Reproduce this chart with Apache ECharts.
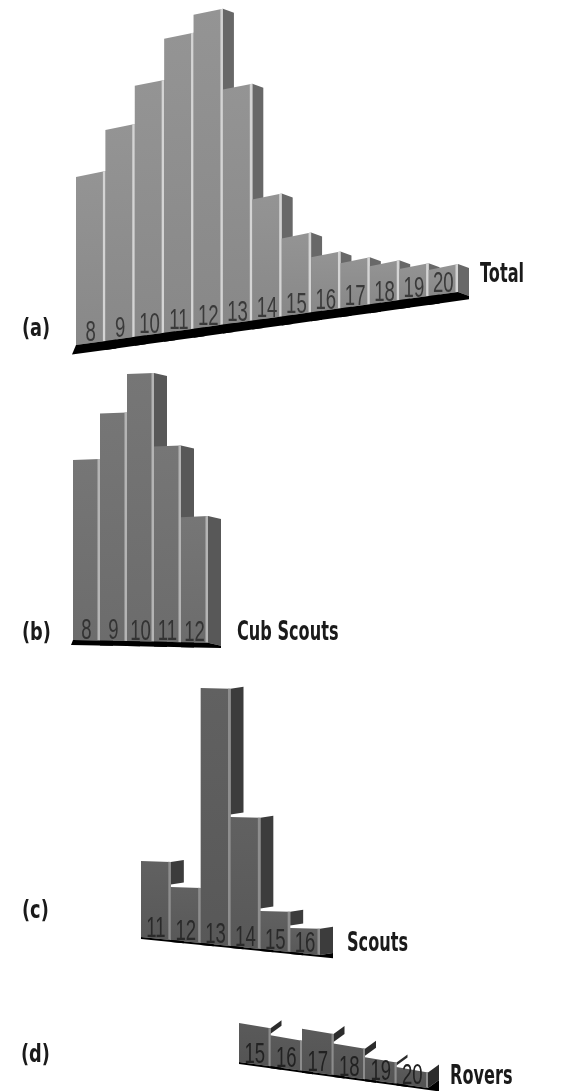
<!DOCTYPE html>
<html><head><meta charset="utf-8">
<script src="https://cdn.jsdelivr.net/npm/echarts/dist/echarts.min.js"></script>
<style>html,body{margin:0;padding:0;background:#fff}#c{width:565px;height:1091px}</style>
</head><body><div id="c"></div>
<script>
// ---- data ----
const agesTotal = ['8','9','10','11','12','13','14','15','16','17','18','19','20'];
const valuesTotal = [168, 211, 251, 294, 314, 235, 121, 78, 55, 45, 38, 31, 26];
const agesCub = ['8','9','10','11','12'];
const valuesCub = [180, 227, 267, 195, 125];
const agesScouts = ['11','12','13','14','15','16'];
const valuesScouts = [76, 53, 255, 129, 38, 24];
const agesRovers = ['15','16','17','18','19','20'];
const valuesRovers = [39, 31, 42, 31.5, 22, 16.5];
const panelLetters = ['(a)', '(b)', '(c)', '(d)'];
const panelNames = ['Total', 'Cub Scouts', 'Scouts', 'Rovers'];

// ---- layout / style ----
const panels = [
  { cats: agesTotal, vals: valuesTotal, grid: {left: 76, top: 25, width: 382, height: 320}, max: 320,
    front: ['#949494', '#888888'], side: '#686868', sep: '#d4d4d4', sepW: 2.5,
    depth: [11, 4], slope: -0.139, topSlope: -0.2, th: 5, lx: 4, gap: 0, label: '#3a3a3a' },
  { cats: agesCub, vals: valuesCub, grid: {left: 73, top: 360, width: 135, height: 280}, max: 280,
    front: ['#767676', '#6c6c6c'], side: '#585858', sep: '#b4b4b4', sepW: 2.5,
    depth: [13, 3], slope: 0.02, topSlope: -0.04, th: 2, lx: 2, gap: 0, label: '#333333' },
  { cats: agesScouts, vals: valuesScouts, grid: {left: 141, top: 677, width: 179, height: 260}, max: 260,
    front: ['#616161', '#585858'], side: '#3c3c3c', sep: '#8e8e8e', sepW: 2.5,
    depth: [13, -2], slope: 0.1, topSlope: 0.03, th: 2, lx: 0, gap: 2.5, label: '#2a2a2a' },
  { cats: agesRovers, vals: valuesRovers, grid: {left: 239, top: 1012, width: 189, height: 50}, max: 50,
    front: ['#5a5a5a', '#545454'], side: '#2c2c2c', sep: '#8c8c8c', sepW: 2,
    depth: [11, -8], slope: 0.137, topSlope: 0.17, th: 2, lx: 0, gap: 1.5, label: '#222222' }
];
const letterPos = [[22, 330], [22, 634], [22, 912], [21, 1056]];
const namePos = [[480, 275], [237, 633], [347, 944], [450, 1077]];

function makeRender(st) {
  return function (params, api) {
    const i = api.value(0), v = api.value(1);
    const b = api.coord([i, 0]), t = api.coord([i, v]);
    const w = api.size([1, 0])[0];
    const gl = params.coordSys.x;
    const x0 = b[0] - w / 2, x1 = b[0] + w / 2;
    const yb = x => b[1] + st.slope * (x - gl);
    const yt = x => t[1] + st.slope * (x0 - gl) + st.topSlope * (x - x0);
    const dx = st.depth[0], dy = st.depth[1];
    const ch = [];
    const hasNext = i < st.vals.length - 1;
    if (st.gap && hasNext) {
      const tn = api.coord([i + 1, st.vals[i + 1]]);
      const ytn = tn[1] + st.slope * (x1 - gl);
      const bot = ytn - st.gap;
      if (bot > yt(x1) + 0.5) {
        ch.push({type: 'polygon', shape: {points: [[x1, yt(x1)], [x1 + dx, yt(x1) + dy], [x1 + dx, bot + dy], [x1, bot]]}, style: {fill: st.side}});
      }
    } else {
      ch.push({type: 'polygon', shape: {points: [[x1, yt(x1)], [x1 + dx, yt(x1) + dy], [x1 + dx, yb(x1) + dy], [x1, yb(x1)]]}, style: {fill: st.side}});
    }
    ch.push({type: 'polygon', shape: {points: [[x0, yt(x0)], [x1, yt(x1)], [x1, yb(x1)], [x0, yb(x0)]]},
      style: {fill: new echarts.graphic.LinearGradient(0, 0, 0, 1, [{offset: 0, color: st.front[0]}, {offset: 1, color: st.front[1]}])}});
    const s = st.sepW;
    ch.push({type: 'polygon', shape: {points: [[x1 - s, yt(x1 - s)], [x1, yt(x1)], [x1, yb(x1)], [x1 - s, yb(x1 - s)]]}, style: {fill: st.sep}});
    const lx = params.dataIndex === 0 ? st.lx : 0;
    const extra = st.th + Math.max(dy, 0);
    ch.push({type: 'polygon', shape: {points: [[x0, yb(x0)], [x1, yb(x1)], [x1 + dx, yb(x1) + dy], [x1 + dx, yb(x1 + dx) + extra], [x0 - lx, yb(x0 - lx) + extra]]}, style: {fill: '#000000'}});
    ch.push({type: 'text', x: b[0], y: yb(b[0]) + 5, scaleX: 0.64,
      style: {text: st.cats[i], x: 0, y: 0, fill: st.label, font: '29px "Liberation Sans"', align: 'center', verticalAlign: 'bottom'}});
    return {type: 'group', children: ch};
  };
}

const grids = [], xAxes = [], yAxes = [], series = [];
panels.forEach((p, k) => {
  grids.push(p.grid);
  xAxes.push({type: 'category', gridIndex: k, data: p.cats, show: false, boundaryGap: true});
  yAxes.push({type: 'value', gridIndex: k, min: 0, max: p.max, show: false});
  series.push({type: 'custom', xAxisIndex: k, yAxisIndex: k, clip: false,
    renderItem: makeRender(p), data: p.vals.map((v, i) => [i, v])});
});

const graphics = [];
panelLetters.forEach((t, k) => {
  graphics.push({type: 'text', x: letterPos[k][0], y: letterPos[k][1], scaleX: 0.74,
    style: {text: t, font: 'bold 24px "DejaVu Sans"', fill: '#1a1a1a', verticalAlign: 'middle'}});
  graphics.push({type: 'text', x: namePos[k][0], y: namePos[k][1], scaleX: 0.62,
    style: {text: panelNames[k], font: 'bold 26px "DejaVu Sans"', fill: '#1a1a1a', verticalAlign: 'middle'}});
});

const chart = echarts.init(document.getElementById('c'), null, {renderer: 'canvas'});
chart.setOption({
  animation: false,
  backgroundColor: '#ffffff',
  grid: grids, xAxis: xAxes, yAxis: yAxes, series: series, graphic: graphics
});
</script></body></html>
